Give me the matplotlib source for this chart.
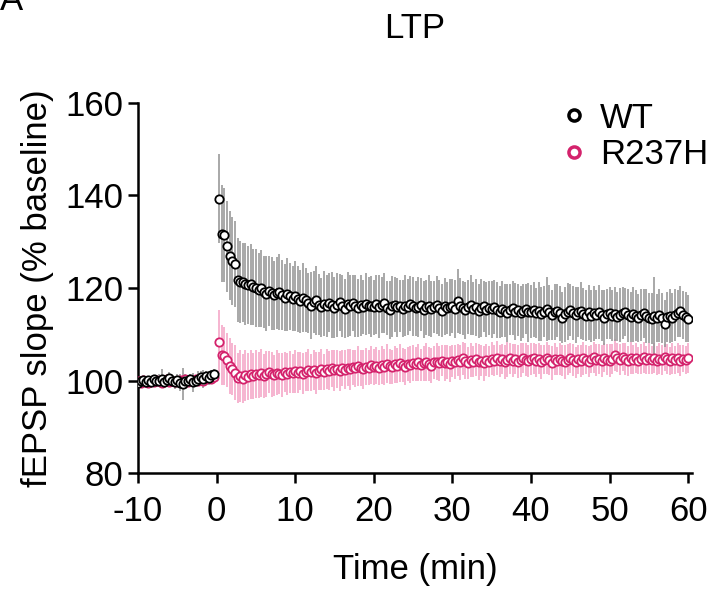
import numpy as np
import matplotlib
matplotlib.use("Agg")
import matplotlib.pyplot as plt
from matplotlib.lines import Line2D

plt.rcParams['font.family'] = ['Liberation Sans', 'DejaVu Sans']
plt.rcParams['axes.unicode_minus'] = False

# sampling: one point every 20 s
dt = 1.0 / 3
t_base = -10 + dt * np.arange(30)
t_post = dt * np.arange(1, 181)

wt_base = [99.4, 99.9, 100.2, 99.7, 100.1, 99.6, 100.3, 99.8, 100.0, 100.4,
           99.7, 100.1, 100.5, 99.9, 99.6, 100.2, 99.5, 99.3, 100.0, 99.8,
           100.3, 99.6, 99.9, 100.4, 100.7, 100.3, 100.9, 100.6, 101.2, 101.5]
wt_base_sem = [0.8, 1.0, 0.7, 1.1, 0.9, 1.2, 0.8, 1.0, 1.5, 2.0,
               1.1, 0.9, 1.3, 1.0, 1.4, 1.2, 1.8, 3.5, 1.3, 1.0,
               1.2, 2.0, 1.1, 1.6, 1.3, 1.9, 1.2, 1.5, 1.0, 0.9]
mut_base = [99.8, 99.5, 100.1, 99.7, 99.4, 100.0, 99.6, 100.2, 99.8, 99.5,
            99.9, 100.3, 99.7, 100.0, 99.6, 99.8, 100.2, 99.9, 100.4, 99.7,
            100.1, 99.8, 100.3, 100.0, 100.5, 99.9, 100.3, 100.6, 100.4, 100.8]
mut_base_sem = [0.5, 0.6, 0.4, 0.7, 0.5, 0.6, 0.8, 0.5, 0.6, 0.7,
                0.5, 0.6, 0.4, 0.7, 0.6, 0.5, 0.8, 0.6, 0.5, 0.7,
                0.6, 0.5, 0.7, 0.6, 0.8, 0.5, 0.6, 0.7, 0.5, 0.6]

wt_post = [
    139.3, 131.7, 131.5, 129.0, 127.0, 125.8, 125.2, 121.7, 121.3, 121.2, 120.9, 120.6, 120.8, 120.2, 120.0,
    119.6, 119.9, 119.2, 118.8, 119.4, 118.9, 118.4, 118.9, 119.1, 118.5, 117.9, 118.6, 118.2, 117.7, 118.3,
    117.6, 117.1, 117.9, 117.4, 116.7, 116.2, 116.9, 117.3, 116.4, 115.8, 116.6, 116.1, 116.8, 116.3, 115.7,
    116.4, 116.9, 116.0, 115.5, 116.5, 116.2, 116.7, 116.1, 115.6, 116.3, 115.9, 116.6, 116.2, 116.0, 115.8,
    116.5, 115.9, 116.3, 116.7, 115.7, 115.2, 116.0, 116.4, 115.8, 116.1, 115.5, 116.2, 115.9, 116.6, 116.0,
    115.6, 115.9, 116.4, 115.3, 115.8, 116.2, 115.5, 115.9, 116.3, 115.7, 115.1, 116.0, 115.6, 115.8, 116.1,
    115.4, 117.2, 116.1, 115.7, 115.2, 115.9, 116.3, 115.5, 115.8, 115.0, 115.6, 116.0, 115.3, 115.7, 115.4,
    115.9, 115.2, 114.8, 115.5, 115.1, 114.6, 115.3, 115.7, 114.9, 115.2, 114.5, 115.0, 115.4, 114.7, 114.9,
    115.3, 114.6, 115.0, 114.4, 114.9, 115.5, 114.7, 114.2, 114.8, 115.1, 114.5, 113.6, 114.3, 114.9, 115.2,
    114.6, 114.2, 114.8, 115.1, 114.4, 114.0, 114.7, 113.9, 114.5, 114.2, 114.8, 114.1, 113.6, 114.3, 114.6,
    114.0, 114.4, 113.8, 114.2, 114.6, 114.9, 114.1, 113.7, 114.3, 114.0, 113.5, 114.2, 114.5, 113.9, 113.6,
    113.4, 113.9, 113.6, 114.1, 113.5, 112.3, 113.8, 114.0, 113.6, 114.2, 114.5, 115.0, 114.1, 113.7, 113.4]
wt_post_sem = [
    9.6, 10.5, 10.2, 9.9, 9.7, 9.5, 9.3, 9.0, 8.9, 8.6, 8.8, 8.4, 8.7, 8.2, 8.5,
    8.0, 8.3, 7.8, 8.1, 7.6, 7.9, 7.4, 7.7, 8.2, 7.5, 7.2, 7.8, 7.3, 7.0, 7.6,
    7.1, 6.8, 7.4, 6.9, 6.5, 7.2, 6.7, 7.5, 6.6, 6.3, 7.0, 6.8, 6.4, 7.1, 6.6,
    6.9, 6.2, 6.7, 6.4, 7.0, 6.5, 6.1, 6.8, 6.3, 6.6, 5.9, 6.7, 6.2, 6.5, 6.0,
    6.4, 6.8, 6.1, 6.5, 5.8, 6.3, 6.6, 6.0, 6.4, 5.7, 6.2, 6.5, 6.1, 5.9, 6.3,
    6.0, 6.4, 5.8, 6.2, 5.9, 6.5, 6.1, 5.7, 6.3, 6.0, 5.8, 6.2, 5.6, 6.1, 5.9,
    6.3, 7.0, 6.0, 5.8, 6.2, 5.9, 6.4, 5.7, 6.1, 5.8, 6.3, 5.6, 6.0, 5.9, 6.2,
    5.8, 6.1, 5.6, 6.0, 5.7, 6.2, 5.5, 5.9, 6.1, 5.6, 6.0, 5.8, 5.4, 6.3, 5.7,
    6.0, 5.5, 6.4, 5.8, 5.6, 6.9, 5.9, 5.4, 6.1, 5.7, 6.0, 5.5, 5.9, 6.2, 5.6,
    5.8, 6.0, 5.4, 6.1, 5.7, 5.5, 6.0, 5.6, 5.9, 5.3, 5.8, 5.5, 6.0, 5.4, 5.7,
    5.5, 5.9, 5.3, 5.8, 5.6, 5.2, 5.7, 5.4, 5.9, 5.5, 5.1, 5.6, 5.3, 5.8, 5.4,
    5.6, 8.5, 5.2, 5.7, 5.5, 5.0, 5.4, 5.8, 5.3, 5.6, 5.1, 5.5, 5.2, 5.4, 5.0]

mut_post = [
    108.3, 105.6, 105.3, 104.4, 103.1, 102.4, 101.7, 100.6, 101.0, 100.4, 101.1, 100.8, 101.3, 101.0, 101.5,
    101.2, 101.6, 101.0, 101.4, 101.8, 101.3, 101.1, 101.7, 101.5, 101.2, 101.8, 101.4, 101.9, 101.6, 102.0,
    101.7, 102.1, 101.5, 101.9, 102.3, 101.8, 102.2, 101.6, 102.0, 102.4, 101.9, 102.5, 102.1, 102.6, 102.2,
    102.5, 102.0, 102.7, 102.3, 102.8, 102.4, 102.9, 102.6, 103.1, 102.7, 102.4, 103.0, 102.8, 103.3, 102.9,
    103.2, 102.8, 103.4, 103.0, 103.6, 103.1, 102.9, 103.5, 103.2, 103.7, 103.3, 103.0, 103.6, 103.4, 103.8,
    103.5, 103.9, 103.3, 103.7, 104.0, 103.6, 103.2, 103.9, 104.1, 103.7, 104.3, 103.8, 104.0, 103.5, 104.2,
    104.0, 104.4, 103.9, 104.8, 104.2, 103.8, 104.5, 104.1, 104.6, 104.0, 104.3, 103.7, 104.4, 104.1, 104.7,
    104.3, 104.9, 104.2, 104.6, 104.0, 104.5, 104.8, 104.3, 104.7, 104.1, 104.4, 104.9, 104.5, 104.2, 104.6,
    104.8, 104.3, 104.7, 104.0, 104.5, 104.9, 104.4, 103.8, 104.6, 104.2, 104.7, 104.3, 104.0, 104.5, 104.8,
    104.4, 103.9, 104.6, 104.2, 104.8, 104.5, 104.1, 104.7, 105.0, 104.4, 104.6, 104.2, 104.9, 104.5, 104.3,
    104.7, 105.5, 104.9, 104.5, 105.1, 104.6, 104.2, 104.8, 104.5, 104.9, 104.3, 104.7, 105.0, 104.4, 104.8,
    104.5, 104.9, 104.3, 104.7, 104.4, 105.0, 104.6, 104.2, 104.8, 104.5, 104.9, 104.3, 104.7, 104.4, 104.8]
mut_post_sem = [
    7.0, 6.5, 6.2, 5.8, 6.0, 5.6, 5.9, 5.4, 5.7, 5.3, 5.5, 5.1, 5.4, 5.0, 5.2,
    4.9, 5.2, 4.7, 5.0, 4.6, 4.9, 4.5, 4.8, 4.4, 4.7, 4.3, 4.6, 4.5, 4.2, 4.6,
    4.4, 4.1, 4.5, 4.2, 4.6, 4.0, 4.3, 4.5, 4.1, 4.4, 3.9, 4.3, 4.2, 4.0, 4.4,
    4.1, 4.3, 3.9, 4.2, 4.0, 4.4, 3.8, 4.1, 4.3, 3.9, 4.2, 4.0, 3.8, 4.1, 3.9,
    4.0, 3.7, 4.1, 3.9, 4.2, 3.8, 3.6, 4.0, 3.8, 4.1, 3.7, 3.9, 3.6, 4.0, 3.8,
    3.7, 3.9, 3.5, 3.8, 4.0, 3.6, 3.8, 3.5, 3.9, 3.7, 3.4, 3.8, 3.6, 3.9, 3.5,
    3.7, 3.4, 3.8, 3.6, 3.9, 3.5, 3.7, 3.3, 3.6, 3.8, 3.4, 3.7, 3.5, 3.3, 3.6,
    3.4, 3.7, 3.5, 3.3, 3.6, 3.8, 3.4, 3.6, 3.2, 3.5, 3.7, 3.3, 3.6, 3.4, 3.5,
    3.3, 3.6, 3.4, 3.7, 3.2, 3.5, 3.3, 3.6, 3.4, 3.1, 3.5, 3.3, 3.6, 3.4, 3.2,
    3.5, 3.3, 3.1, 3.4, 3.6, 3.2, 3.4, 3.0, 3.3, 3.5, 3.2, 3.4, 3.1, 3.3, 3.5,
    3.2, 3.4, 3.1, 3.3, 3.0, 3.4, 3.2, 3.5, 3.1, 3.3, 3.0, 3.2, 3.4, 3.1, 3.3,
    3.0, 3.3, 3.1, 3.4, 3.2, 2.9, 3.3, 3.1, 3.4, 3.0, 3.2, 3.3, 2.9, 3.1, 3.2]

wt_color = 'black'
wt_err = '#999999'
mut_color = '#d4226c'
mut_err = '#f5a8c8'

t_all = np.concatenate([t_base, t_post])
wt = np.concatenate([wt_base, wt_post])
wt_sem = np.concatenate([wt_base_sem, wt_post_sem])
mut = np.concatenate([mut_base, mut_post])
mut_sem = np.concatenate([mut_base_sem, mut_post_sem])

fig = plt.figure(figsize=(7.15, 5.95), dpi=100)
ax = fig.add_axes([0.193, 0.205, 0.775, 0.622])

ax.errorbar(t_all, mut, yerr=mut_sem, fmt='none', ecolor=mut_err, elinewidth=1.2, zorder=1)
ax.errorbar(t_all, wt, yerr=wt_sem, fmt='none', ecolor=wt_err, elinewidth=1.2, zorder=2)
ax.plot(t_all, mut, 'o', ms=6, mfc='white', mec=mut_color, mew=1.3, zorder=3)
ax.plot(t_all, wt, 'o', ms=6, mfc='white', mec=wt_color, mew=1.3, zorder=4)

ax.set_xlim(-10, 60.5)
ax.set_ylim(80, 160)
ax.set_xticks([-10, 0, 10, 20, 30, 40, 50, 60])
ax.set_yticks([80, 100, 120, 140, 160])
for s in ['top', 'right']:
    ax.spines[s].set_visible(False)
for s in ['left', 'bottom']:
    ax.spines[s].set_linewidth(1.8)
ax.tick_params(width=1.8, length=7, labelsize=25)
ax.tick_params(axis='x', pad=9)
ax.set_xlabel('Time (min)', fontsize=25, labelpad=18)
ax.set_ylabel('fEPSP slope (% baseline)', fontsize=25, labelpad=8)
ax.set_title('LTP', fontsize=25, pad=47)

handles = [Line2D([], [], ls='none', marker='o', ms=8, mfc='white', mec=wt_color, mew=2.5),
           Line2D([], [], ls='none', marker='o', ms=8, mfc='white', mec=mut_color, mew=2.5)]
ax.legend(handles, ['WT', 'R237H'], loc='upper right', bbox_to_anchor=(1.085, 1.088),
          frameon=False, fontsize=25, handletextpad=0.15, labelspacing=0.1,
          handlelength=1.2)

fig.text(0.0, 0.983, 'A', fontsize=25, ha='left', va='baseline')

fig.savefig('out.png', dpi=100)
